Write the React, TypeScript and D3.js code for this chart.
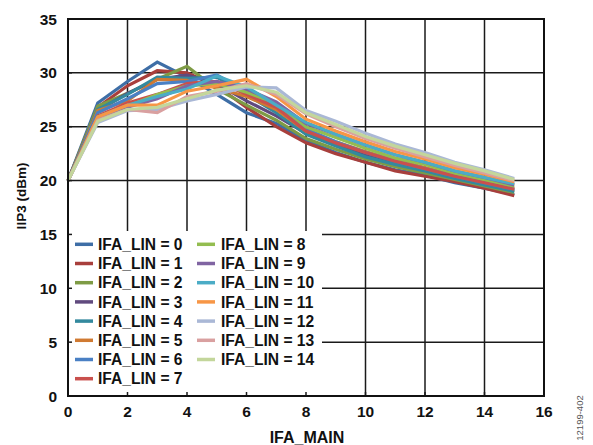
import React from "react";
import * as d3 from "d3";

const xValues = [0, 1, 2, 3, 4, 5, 6, 7, 8, 9, 10, 11, 12, 13, 14, 15];
const seriesNames = [
  "IFA_LIN = 0", "IFA_LIN = 1", "IFA_LIN = 2", "IFA_LIN = 3", "IFA_LIN = 4",
  "IFA_LIN = 5", "IFA_LIN = 6", "IFA_LIN = 7", "IFA_LIN = 8", "IFA_LIN = 9",
  "IFA_LIN = 10", "IFA_LIN = 11", "IFA_LIN = 12", "IFA_LIN = 13", "IFA_LIN = 14",
];
const seriesColors = [
  "#3e6ea6", "#a83f3c", "#7e9b45", "#604a7e", "#33899e", "#d07a32", "#4a80c4",
  "#c9504d", "#93bd50", "#8064a2", "#4bacc6", "#f79646", "#aab8d6", "#d9a0a0", "#c3d69b",
];
const s0 = [20, 27.2, 29.2, 31.0, 29.6, 28.0, 26.3, 25.3, 23.7, 22.6, 21.7, 21.0, 20.5, 19.8, 19.3, 18.7];
const s1 = [20, 26.8, 28.8, 30.2, 30.0, 28.8, 26.8, 25.0, 23.5, 22.5, 21.7, 20.9, 20.4, 19.9, 19.3, 18.6];
const s2 = [20, 26.9, 28.1, 29.4, 30.6, 28.5, 27.0, 25.6, 23.9, 22.9, 22.0, 21.3, 20.7, 20.1, 19.5, 18.9];
const s3 = [20, 26.5, 28.1, 29.4, 29.8, 29.0, 27.4, 26.0, 24.4, 23.4, 22.4, 21.6, 21.0, 20.3, 19.7, 19.1];
const s4 = [20, 26.6, 28.0, 29.6, 29.5, 29.6, 28.0, 26.3, 24.3, 23.2, 22.2, 21.5, 20.9, 20.2, 19.6, 19.0];
const s5 = [20, 26.5, 27.4, 29.4, 29.3, 28.6, 27.8, 26.6, 24.6, 23.6, 22.7, 21.9, 21.2, 20.5, 19.9, 19.3];
const s6 = [20, 26.3, 27.6, 29.0, 29.2, 29.8, 28.3, 27.0, 24.8, 23.6, 22.6, 21.8, 21.1, 20.4, 19.8, 19.2];
const s7 = [20, 26.0, 27.2, 28.0, 29.0, 29.2, 28.0, 26.8, 24.6, 23.5, 22.6, 21.8, 21.1, 20.4, 19.8, 19.2];
const s8 = [20, 25.9, 26.9, 28.0, 28.8, 29.0, 28.2, 27.2, 25.0, 24.0, 23.0, 22.1, 21.5, 20.7, 20.1, 19.5];
const s9 = [20, 25.8, 26.8, 27.6, 28.8, 29.2, 28.5, 27.3, 25.3, 24.3, 23.3, 22.4, 21.7, 20.9, 20.3, 19.6];
const s10 = [20, 25.9, 27.0, 27.8, 28.5, 29.7, 28.7, 27.0, 25.4, 24.3, 23.3, 22.4, 21.7, 20.9, 20.3, 19.7];
const s11 = [20, 25.9, 27.0, 27.0, 28.3, 28.8, 29.4, 27.8, 25.7, 24.6, 23.6, 22.7, 22.0, 21.2, 20.6, 19.9];
const s12 = [20, 25.4, 26.5, 26.6, 27.4, 28.0, 28.7, 28.6, 26.5, 25.5, 24.4, 23.4, 22.6, 21.7, 21.0, 20.2];
const s13 = [20, 25.6, 26.6, 26.3, 27.8, 28.3, 29.0, 28.0, 26.2, 25.0, 23.9, 23.0, 22.2, 21.4, 20.7, 20.0];
const s14 = [20, 25.5, 26.6, 26.8, 27.6, 28.4, 28.8, 28.2, 26.3, 25.2, 24.1, 23.2, 22.4, 21.6, 20.9, 20.1];
const seriesValues = [s0, s1, s2, s3, s4, s5, s6, s7, s8, s9, s10, s11, s12, s13, s14];

const xTicks = [0, 2, 4, 6, 8, 10, 12, 14, 16];
const yTicks = [0, 5, 10, 15, 20, 25, 30, 35];
const xTitle = "IFA_MAIN";
const yTitle = "IIP3 (dBm)";
const figId = "12199-402";

const W = 593;
const H = 445;
const L = 68;
const R = 544;
const T = 19;
const B = 396;
const FONT = "'Liberation Sans', Arial, Helvetica, sans-serif";

export default function App() {
  const x = d3.scaleLinear().domain([0, 16]).range([L, R]);
  const y = d3.scaleLinear().domain([0, 35]).range([B, T]);
  const line = d3
    .line<number>()
    .x((_, i) => x(xValues[i]))
    .y((d) => y(d));

  const legTop = 231;
  const legRight = 322;
  const rowH = 19.2;
  const row0 = 244.3;
  const cols = [{ sw: 75, tx: 98 }, { sw: 197, tx: 221 }];

  return (
    <svg
      width={W}
      height={H}
      style={{ position: "absolute", left: 0, top: 0, background: "#fff" }}
      fontFamily={FONT}
    >
      <rect x={0} y={0} width={W} height={H} fill="#fff" />
      {xTicks.slice(1, -1).map((t) => (
        <line key={"gx" + t} x1={x(t)} x2={x(t)} y1={T} y2={B} stroke="#1a1a1a" strokeWidth={1.5} />
      ))}
      {yTicks.slice(1, -1).map((t) => (
        <line key={"gy" + t} x1={L} x2={R} y1={y(t)} y2={y(t)} stroke="#1a1a1a" strokeWidth={1.5} />
      ))}
      {seriesValues.map((vals, i) => (
        <path
          key={"s" + i}
          d={line(vals) || ""}
          fill="none"
          stroke={seriesColors[i]}
          strokeWidth={3.2}
          strokeLinejoin="miter"
        />
      ))}
      <rect x={L + 1} y={legTop} width={legRight - L - 1} height={B - legTop} fill="#fff" />
      {seriesNames.map((name, i) => {
        const c = cols[i < 8 ? 0 : 1];
        const r = i < 8 ? i : i - 8;
        const cy = row0 + r * rowH;
        return (
          <g key={"lg" + i}>
            <line x1={c.sw} x2={c.sw + 18} y1={cy} y2={cy} stroke={seriesColors[i]} strokeWidth={3.5} />
            <text x={c.tx} y={cy} dy="0.36em" fontSize={15.6} fontWeight="bold" fill="#111">
              {name}
            </text>
          </g>
        );
      })}
      {xTicks.slice(1, -1).map((t) => (
        <line key={"tx" + t} x1={x(t)} x2={x(t)} y1={B} y2={B - 4} stroke="#1a1a1a" strokeWidth={1.5} />
      ))}
      {yTicks.slice(1, -1).map((t) => (
        <line key={"ty" + t} x1={L} x2={L + 4} y1={y(t)} y2={y(t)} stroke="#1a1a1a" strokeWidth={1.5} />
      ))}
      <rect x={L} y={T} width={R - L} height={B - T} fill="none" stroke="#111" strokeWidth={2} />
      {xTicks.map((t) => (
        <text key={"lx" + t} x={x(t)} y={411} dy="0.36em" textAnchor="middle" fontSize={15.5} fontWeight="bold" fill="#111">
          {t}
        </text>
      ))}
      {yTicks.map((t) => (
        <text key={"ly" + t} x={57} y={y(t)} dy="0.36em" textAnchor="end" fontSize={15.5} fontWeight="bold" fill="#111">
          {t}
        </text>
      ))}
      <text x={(L + R) / 2 + 1} y={437} dy="0.36em" textAnchor="middle" fontSize={16} fontWeight="bold" fill="#111">
        {xTitle}
      </text>
      <text
        transform={`translate(21,196) rotate(-90)`}
        dy="0.36em"
        textAnchor="middle"
        fontSize={13.5}
        fontWeight="bold"
        fill="#111"
      >
        {yTitle}
      </text>
      <text
        transform={`translate(580,418) rotate(-90)`}
        dy="0.36em"
        textAnchor="middle"
        fontSize={9.5}
        fill="#555"
      >
        {figId}
      </text>
    </svg>
  );
}
